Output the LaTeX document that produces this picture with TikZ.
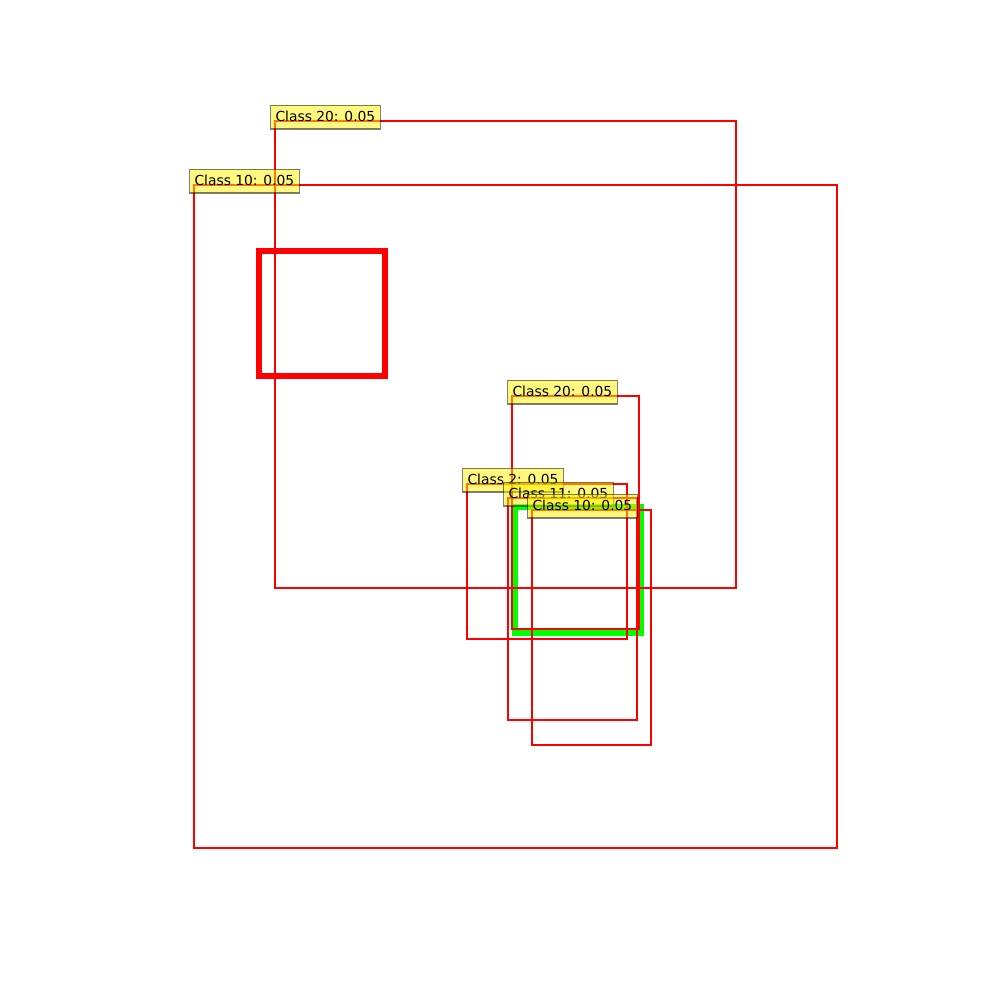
\documentclass[tikz,border=0pt]{standalone}
\usepackage{fontspec}
\setmainfont{DejaVu Sans}
\begin{document}
\begin{tikzpicture}[x=0.254mm,y=-0.254mm,
  det/.style={draw=red,line width=2pt},
  gtred/.style={draw=red,line width=4pt},
  gtgreen/.style={draw=green,line width=4pt},
  lbl/.style={anchor=base west,xshift=-3.6pt,inner xsep=3.6pt,inner ysep=3.6pt,
    text height=7.9pt,text depth=2.2pt,fill=yellow,fill opacity=0.5,
    draw=black,draw opacity=0.5,line width=0.8pt,text opacity=1,font=\fontsize{10pt}{12pt}\selectfont}]
\useasboundingbox (0,0) rectangle (1000,1000);
% ground truth
\draw[gtred] (259,251) rectangle (385,376);
\draw[gtgreen] (515,507) rectangle (641,633);
% detections
\draw[det] (194,185) coordinate (b1) rectangle (837,848);
\draw[det] (275,121) coordinate (b2) rectangle (736,588);
\draw[det] (512,396) coordinate (b3) rectangle (639,629);
\draw[det] (467,484) coordinate (b4) rectangle (627,639);
\draw[det] (508,498) coordinate (b5) rectangle (637,720);
\draw[det] (532,510) coordinate (b6) rectangle (651,745);
% labels
\node[lbl] (l1) at (b1) {Class 10: 0.05};
\node[lbl] (l2) at (b2) {Class 20: 0.05};
\node[lbl] (l3) at (b3) {Class 20: 0.05};
\node[lbl] (l4) at (b4) {Class 2: 0.05};
\node[lbl] (l5) at (b5) {Class 11: 0.05};
\node[lbl] (l6) at (b6) {Class 10: 0.05};
\end{tikzpicture}
\end{document}
